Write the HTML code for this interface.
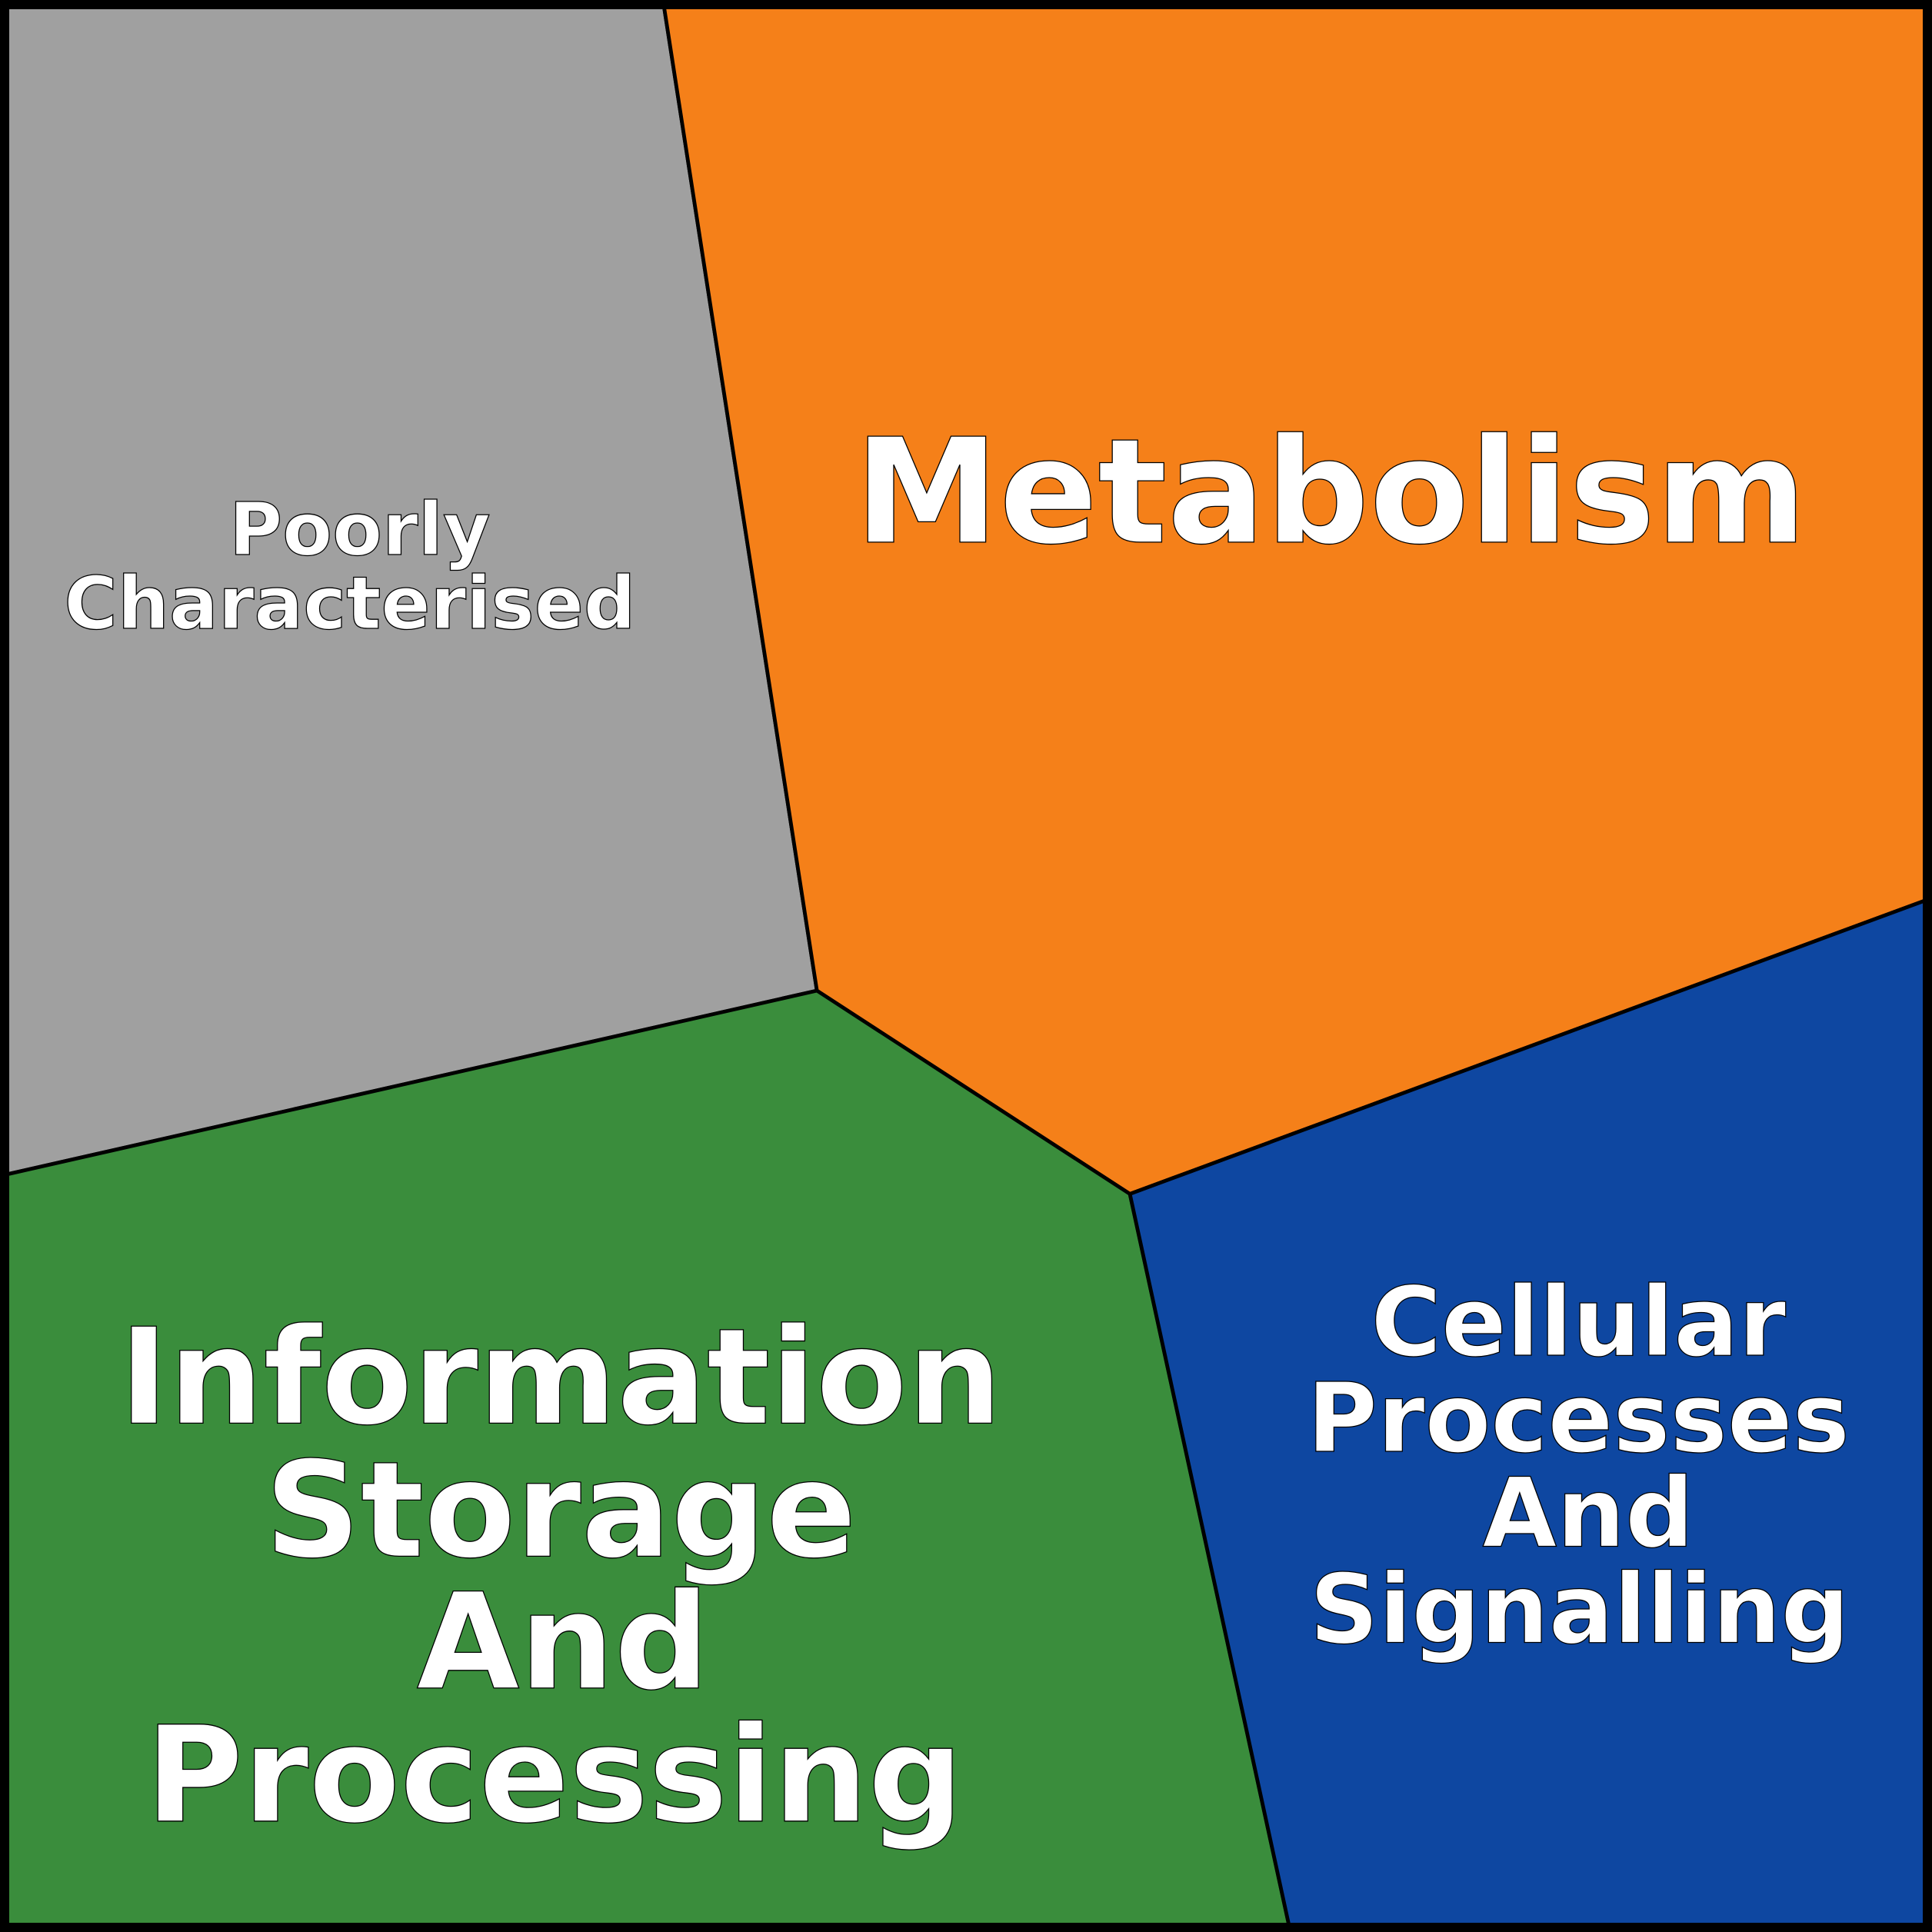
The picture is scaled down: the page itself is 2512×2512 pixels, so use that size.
<!DOCTYPE html>
<html>
<head>
<meta charset="utf-8">
<style>
html,body{margin:0;padding:0;background:#fff;}
svg{display:block;}
text{font-family:"DejaVu Sans","Liberation Sans",sans-serif;font-weight:bold;fill:#fff;stroke:#000;stroke-width:0.8;text-anchor:middle;}
</style>
</head>
<body>
<svg width="2512" height="2512" viewBox="0 0 1568 1568" xmlns="http://www.w3.org/2000/svg">
  <rect x="0" y="0" width="1568" height="1568" fill="#000"/>
  <polygon points="6,6 539,6 663,804 6,953" fill="#a0a0a0" stroke="#000" stroke-width="3"/>
  <polygon points="539,6 1562,6 1562,731 917,969 663,804" fill="#f58019" stroke="#000" stroke-width="3"/>
  <polygon points="6,953 663,804 917,969 1046,1562 6,1562" fill="#3a8d3c" stroke="#000" stroke-width="3"/>
  <polygon points="917,969 1562,731 1562,1562 1046,1562" fill="#0e47a1" stroke="#000" stroke-width="3"/>
  <rect x="3" y="3" width="1562" height="1562" fill="none" stroke="#000" stroke-width="6"/>

  <text x="1080" y="440" font-size="118">Metabolism</text>

  <text x="292" y="450" font-size="59">Poorly</text>
  <text x="284" y="510" font-size="59">Characterised</text>

  <text x="455" y="1155" font-size="108">Information</text>
  <text x="455" y="1263" font-size="108">Storage</text>
  <text x="457" y="1370" font-size="108">And</text>
  <text x="450" y="1478" font-size="108">Processing</text>

  <text x="1281" y="1100" font-size="78">Cellular</text>
  <text x="1281" y="1178" font-size="78">Processes</text>
  <text x="1289" y="1255" font-size="78">And</text>
  <text x="1282" y="1333" font-size="78">Signalling</text>
</svg>
</body>
</html>
